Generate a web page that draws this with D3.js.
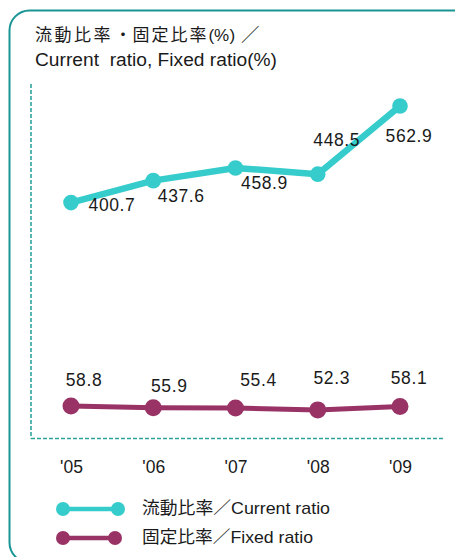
<!DOCTYPE html>
<html><head><meta charset="utf-8">
<script src="https://cdn.jsdelivr.net/npm/d3@7"></script>
<style>
html,body{margin:0;padding:0;background:#fff;}
svg{display:block;}
text{font-family:"Liberation Sans",Arial,"Noto Sans CJK JP",sans-serif;fill:#1a1a1a;}
</style></head>
<body>
<script>
const categories = ["'05","'06","'07","'08","'09"];
const currentRatio = [400.7, 437.6, 458.9, 448.5, 562.9];
const fixedRatio = [58.8, 55.9, 55.4, 52.3, 58.1];
const titleParts = ["流動比率・固定比率", "(%)", "／"];
const titleLine2 = "Current  ratio, Fixed ratio(%)";
const legendLabels = ["流動比率／Current ratio", "固定比率／Fixed ratio"];

// label nudges and title glyph layout (style only)
const currentLabelOffsets = [[41,2],[28,15],[29,15],[19,-34],[9,30]];
const fixedLabelOffsets = [[13,-26],[16,-22],[23,-28],[14,-32],[9,-29]];
const titleGlyphX = [
  "35 54.5 74 93.5 114.5 132.5 151.5 170.5 189.5",
  "208.5 214 229.5",
  "241"
];

const W = 455, H = 557;
const cCol = "#36cccc", fCol = "#993366", axisCol = "#2fa39c", borderCol = "#1a9595";

const svg = d3.select("body").append("svg").attr("width", W).attr("height", H);

svg.append("rect").attr("x", 9.5).attr("y", 10.5).attr("width", 470).attr("height", 552)
  .attr("rx", 20).attr("fill", "none").attr("stroke", borderCol).attr("stroke-width", 2);

const x = d3.scalePoint().domain(categories).range([71, 400]);
const y = d3.scaleLinear().domain([0, 600]).range([441, 84]);

// dashed axes
svg.append("line").attr("x1", 31).attr("x2", 31).attr("y1", 84).attr("y2", 438.5)
  .attr("stroke", axisCol).attr("stroke-width", 1.6).attr("stroke-dasharray", "4,2");
svg.append("line").attr("x1", 31).attr("x2", 443).attr("y1", 438.5).attr("y2", 438.5)
  .attr("stroke", axisCol).attr("stroke-width", 1.6).attr("stroke-dasharray", "4,2");

// title
const t1 = svg.append("text").attr("y", 40.5).attr("font-size", 17)
  .attr("font-family", "'Noto Sans CJK JP',sans-serif");
titleParts.forEach((p, i) => {
  const ts = t1.append("tspan").attr("x", titleGlyphX[i]).text(p);
  if (p === "(%)") ts.attr("font-family", "'Liberation Sans',Arial,sans-serif").attr("font-size", 17);
  if (p === "／") ts.attr("font-size", 18.5);
});
svg.append("text").attr("x", 35).attr("y", 66).attr("font-size", 17.5)
  .attr("textLength", 242).attr("lengthAdjust", "spacingAndGlyphs").style("white-space","pre").text(titleLine2);

// x tick labels
const xAxis = svg.append("g").attr("transform", "translate(0,473)")
  .call(d3.axisBottom(x).tickSize(0).tickPadding(0));
xAxis.select(".domain").remove();
xAxis.selectAll("text").attr("font-size", 17.5).attr("fill", "#1a1a1a")
  .attr("font-family", "'Liberation Sans',Arial,sans-serif").attr("dy", 0);

function series(data, col, lw, r, offs) {
  const line = d3.line().x((d,i) => x(categories[i])).y(d => y(d));
  svg.append("path").datum(data).attr("d", line).attr("fill", "none")
    .attr("stroke", col).attr("stroke-width", lw).attr("stroke-linejoin", "round");
  svg.selectAll(null).data(data).enter().append("circle")
    .attr("cx", (d,i) => x(categories[i])).attr("cy", d => y(d)).attr("r", r).attr("fill", col);
  svg.selectAll(null).data(data).enter().append("text")
    .attr("x", (d,i) => x(categories[i]) + offs[i][0])
    .attr("y", (d,i) => y(d) + offs[i][1] + 6.2)
    .attr("text-anchor", "middle").attr("font-size", 17.5).attr("letter-spacing", 0.6)
    .text(d => d.toFixed(1));
}
series(currentRatio, cCol, 6.5, 7.8, currentLabelOffsets);
series(fixedRatio, fCol, 5, 8.5, fixedLabelOffsets);

// legend
const legendRows = [{col: cCol, y: 509, x2: 118, lw: 4.5}, {col: fCol, y: 538, x2: 115, lw: 4.5}];
legendRows.forEach((row, i) => {
  const g = svg.append("g");
  g.append("line").attr("x1", 63).attr("x2", row.x2).attr("y1", row.y).attr("y2", row.y)
    .attr("stroke", row.col).attr("stroke-width", row.lw);
  g.append("circle").attr("cx", 63).attr("cy", row.y).attr("r", 7).attr("fill", row.col);
  g.append("circle").attr("cx", row.x2).attr("cy", row.y).attr("r", 7).attr("fill", row.col);
  g.append("text").attr("x", 142).attr("y", row.y + 4.5).attr("font-size", 17)
    .attr("textLength", i === 0 ? 188 : 171).attr("lengthAdjust", "spacingAndGlyphs")
    .text(legendLabels[i]);
});
</script>
</body></html>
